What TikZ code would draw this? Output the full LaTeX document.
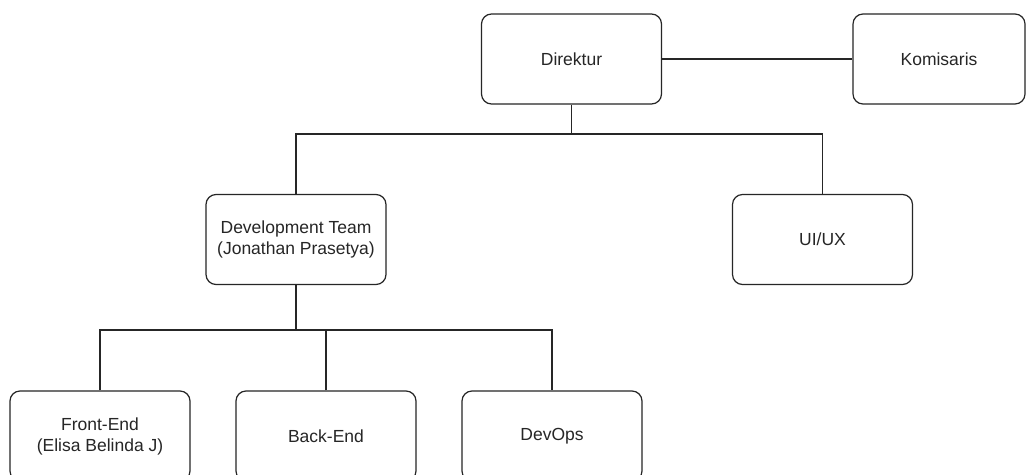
\documentclass[tikz,border=0pt]{standalone}
\usepackage{fontspec}
\setmainfont{Liberation Sans}
\begin{document}
\begin{tikzpicture}[x=1pt,y=-1pt,
  box/.style={draw=black!85, rounded corners=10pt, line width=1.2pt, minimum width=180pt, minimum height=90pt, align=center, font=\fontsize{17.5}{21}\selectfont, text=black!85, inner sep=0pt},
  conn/.style={draw=black!85, line width=1.2pt}]
\clip (0,0) rectangle (1027,474);
\fill[white] (0,0) rectangle (1027,474);
\node[box] (dir) at (571.5,59) {Direktur};
\node[box, minimum width=172pt] (kom) at (939,59) {Komisaris};
\node[box] (dev) at (296,239.5) {Development Team\\(Jonathan Prasetya)};
\node[box] (ui) at (822.5,239.5) {UI/UX};
\node[box] (fe) at (100,436) {Front-End\\(Elisa Belinda J)};
\node[box] (be) at (326,436) {Back-End};
\node[box] (do) at (552,436) {DevOps};
\coordinate (j1) at (571.5,134);
\coordinate (j2) at (296,330);
\draw[conn] (dir) -- (kom);
\draw[conn] (dir.south) -- (j1);
\draw[conn] (dev.north) |- (j1) -| (ui.north);
\draw[conn] (dev.south) -- (j2);
\draw[conn] (fe.north) |- (j2) -| (do.north);
\draw[conn] (be.north) -- (be.north |- j2);
\end{tikzpicture}
\end{document}
